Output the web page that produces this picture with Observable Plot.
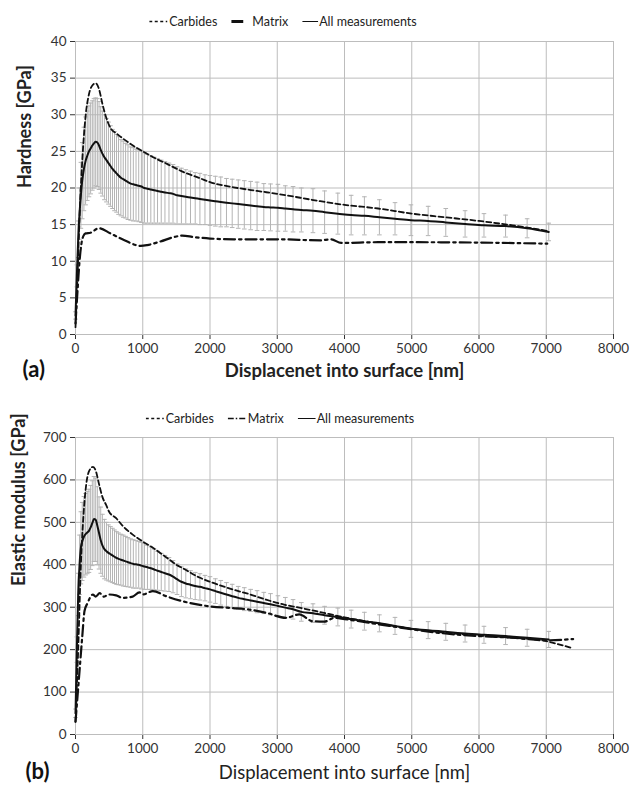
<!DOCTYPE html>
<html>
<head>
<meta charset="utf-8">
<script src="https://cdn.jsdelivr.net/npm/d3@7"></script>
<script src="https://cdn.jsdelivr.net/npm/@observablehq/plot@0.6"></script>
<style>
  body { margin: 0; background: #fff; font-family: Lato, "Open Sans", sans-serif; }
  #fig { position: relative; width: 633px; height: 789px; overflow: hidden; background: #fff; }
  #fig > svg { position: absolute; left: 0; }
  .legend { position: absolute; display: flex; align-items: center; font-size: 12.5px; color: #222;
            transform: translate(-50%, -50%); white-space: nowrap; z-index: 2; }
  .legend .item { display: flex; align-items: center; margin: 0 7px; }
  .legend svg { display: block; margin-right: 1px; }
</style>
</head>
<body>
<div id="fig"></div>
<script>
// Indentation depths (nm) at which the averaged curve and its scatter are reported
const depth = [0,20,40,60,80,100,125,150,175,200,225,250,275,300,325,350,375,400,430,460,490,520,550,580,610,640,675,710,745,780,820,860,900,940,980,1025,1070,1120,1170,1220,1275,1330,1390,1450,1510,1575,1640,1710,1780,1850,1925,2000,2080,2160,2245,2330,2420,2510,2605,2700,2800,2900,3010,3120,3235,3358,3531,3704,3901,4099,4296,4519,4751,4988,5244,5506,5793,6074,6395,6716,7037];

// (a) Hardness, all measurements: mean and standard deviation (GPa)
const hardAll = [2.6,8,13,16.5,19,21,22.6,23.7,24.4,25.0,25.4,25.8,26.1,26.3,26.2,25.8,25.2,24.7,24.2,23.8,23.4,23.0,22.6,22.3,22.0,21.7,21.4,21.2,21.0,20.8,20.6,20.5,20.4,20.3,20.2,20.0,19.9,19.8,19.7,19.6,19.5,19.4,19.3,19.2,19.0,18.9,18.8,18.7,18.6,18.5,18.4,18.3,18.2,18.1,18.0,17.9,17.8,17.7,17.6,17.5,17.4,17.35,17.3,17.2,17.1,17.0,16.9,16.7,16.5,16.3,16.2,16.0,15.8,15.6,15.5,15.3,15.1,14.9,14.8,14.5,14.0];
const hardSd = [0.5,1.5,2.5,3.5,4.5,5.2,5.7,6.0,6.1,6.2,6.2,6.1,6.1,6.0,6.0,6.0,5.9,5.8,5.8,5.7,5.6,5.5,5.4,5.4,5.3,5.3,5.2,5.2,5.1,5.1,5.0,5.0,4.9,4.9,4.9,4.8,4.7,4.6,4.5,4.4,4.3,4.2,4.1,4.0,3.9,3.8,3.7,3.6,3.5,3.5,3.4,3.4,3.4,3.4,3.3,3.3,3.3,3.3,3.3,3.3,3.2,3.2,3.2,3.1,3.1,3.0,3.0,2.9,2.8,2.7,2.6,2.4,2.2,2.1,2.0,1.9,1.8,1.6,1.5,1.3,1.2];

// (a) Hardness on carbides
const carbDepthA = [0,30,60,90,120,150,200,250,300,350,400,450,520,600,670,870,1000,1200,1360,1600,1860,2000,2350,2700,3000,3640,4000,4500,5000,5500,6000,6500,7040];
const carbHard = [1,8,16,22,26.5,29.8,32.8,34.0,34.3,33.5,31.5,29.8,28.2,27.5,27.0,25.7,25.0,24.0,23.3,22.2,21.3,20.8,20.1,19.6,19.2,18.2,17.7,17.2,16.5,16.0,15.5,14.9,14.1];

// (a) Hardness on matrix
const matDepthA = [0,30,60,90,120,150,223,348,520,720,970,1066,1264,1463,1587,1760,2000,2355,3000,3644,3800,3950,4500,5000,6000,7015];
const matHard = [1.5,6,10,12.5,13.5,13.8,13.9,14.5,13.8,12.9,12.1,12.2,12.7,13.3,13.5,13.3,13.1,13.0,13.0,12.85,13.0,12.5,12.6,12.6,12.55,12.4];

// (b) Elastic modulus, all measurements: mean and standard deviation (GPa)
const modAll = [50,200,330,400,440,455,466,472,476,480,488,498,508,506,492,475,458,446,437,432,428,425,422,419,416,414,412,410,408,406,404,402,401,400,398,396,394,392,389,386,383,380,377,372,366,360,356,353,350,348,345,342,338,334,330,326,322,319,316,313,310,307,303,299,295,289,286,281,277,272,267,262,256,249,246,242,238,235,232,228,224];
const modSd = [10,30,50,70,85,92,95,96,97,98,99,100,100,98,92,85,78,73,70,68,66,65,64,63,62,61,60,60,59,58,57,57,56,55,55,54,52,50,48,46,44,42,40,38,36,35,34,33,32,31,30,30,29,29,28,28,27,27,26,26,25,25,24,24,23,22,22,21,21,21,21,20,20,20,20,20,20,20,20,20,19];

// (b) Elastic modulus on carbides
const carbDepthB = [0,40,80,120,160,200,260,300,350,400,455,500,604,700,851,1000,1150,1347,1500,1594,1842,2000,2337,2600,2832,3100,3327,3624,4000,4500,5000,5500,6000,6500,7000,7200,7400];
const carbMod = [30,200,400,520,590,620,631,622,590,560,541,525,510,492,471,455,440,418,400,392,370,360,342,330,318,306,299,289,276,262,249,240,233,228,220,212,203];

// (b) Elastic modulus on matrix
const matDepthB = [0,60,100,134,180,257,300,360,420,500,604,700,851,950,1000,1150,1347,1594,2000,2337,2600,2832,3129,3327,3525,3700,3850,4000,4500,5000,5500,6000,6500,7000,7400];
const matMod = [30,150,230,291,310,330,325,333,325,330,328,322,325,335,330,338,326,314,302,298,294,287,275,283,267,266,275,272,260,248,238,232,228,222,225];

// Axis ticks
const xTicks = [0,1000,2000,3000,4000,5000,6000,7000,8000];
const hardTicks = [0,5,10,15,20,25,30,35,40];
const modTicks = [0,100,200,300,400,500,600,700];

// Horizontal cap for the error bars
const cap = {
  draw(ctx, size) {
    const r = Math.sqrt(size / Math.PI);
    ctx.moveTo(-r, 0);
    ctx.lineTo(r, 0);
  }
};

const fig = document.getElementById("fig");
const zip = (xs, ys) => xs.map((x, i) => ({x, y: ys[i]}));

function panel(o) {
  const rows = depth.map((d, i) => ({x: d, m: o.mean[i], s: o.sd[i]}));
  const carb = zip(o.carbX, o.carbY);
  const mat = zip(o.matX, o.matY);
  const grid = "#bdbdbd", bar = "#b4b4b4";
  const svg = Plot.plot({
    width: 633,
    height: o.height,
    marginLeft: 75,
    marginRight: 20,
    marginTop: o.marginTop,
    marginBottom: o.marginBottom,
    style: {fontFamily: "Lato, 'Open Sans', sans-serif", fontSize: "13.5px", color: "#333", background: "transparent"},
    x: {domain: [0, 8000], ticks: xTicks, tickSize: 5, tickPadding: 4, label: null, tickFormat: d3.format("d")},
    y: {domain: o.domain, ticks: o.ticks, tickSize: 5, tickPadding: 4, label: null, tickFormat: d3.format("d")},
    marks: [
      Plot.ruleY(o.ticks, {y: d => d, stroke: grid, strokeWidth: 1}),
      Plot.ruleX(xTicks, {x: d => d, stroke: grid, strokeWidth: 1}),
      Plot.ruleX(rows, {x: "x", y1: d => d.m - d.s, y2: d => d.m + d.s, stroke: bar, strokeWidth: 1}),
      Plot.dot(rows, {x: "x", y: d => d.m - d.s, symbol: cap, r: 2.3, fill: "none", stroke: bar, strokeWidth: 1}),
      Plot.dot(rows, {x: "x", y: d => d.m + d.s, symbol: cap, r: 2.3, fill: "none", stroke: bar, strokeWidth: 1}),
      Plot.line(mat, {x: "x", y: "y", curve: "monotone-x", stroke: "#111", strokeWidth: 2.2, strokeDasharray: "11,4,2.5,4"}),
      Plot.line(carb, {x: "x", y: "y", curve: "monotone-x", stroke: "#111", strokeWidth: 1.8, strokeDasharray: "5,3"}),
      Plot.line(rows, {x: "x", y: "m", curve: "monotone-x", stroke: "#111", strokeWidth: 2}),
      Plot.text([o.yTitle], {text: d => d, frameAnchor: "left", dx: o.yTitleDx, rotate: -90,
        fontSize: 18, fontWeight: "bold", fill: "#222"}),
      Plot.text([o.xTitle], {text: d => d, frameAnchor: "bottom", dy: o.titleDy,
        fontSize: o.xTitleSize, fontWeight: o.xTitleWeight, fill: "#222"}),
      Plot.text([o.tag], {text: d => d, frameAnchor: "bottom-left", dx: o.tagDx, dy: o.titleDy,
        fontSize: 22, fontWeight: "bold", fill: "#111"})
    ]
  });
  svg.style.top = o.top + "px";
  fig.appendChild(svg);
}

function legend(items, cx, cy) {
  const div = document.createElement("div");
  div.className = "legend";
  div.style.left = cx + "px";
  div.style.top = cy + "px";
  for (const it of items) {
    const item = document.createElement("div");
    item.className = "item";
    const w = it.w;
    item.innerHTML =
      `<svg width="${w + it.gap}" height="8"><line x1="0" x2="${w}" y1="4" y2="4" stroke="#111" ` +
      `stroke-width="${it.sw}" ${it.dash ? `stroke-dasharray="${it.dash}"` : ""}/></svg>` +
      `<span>${it.label}</span>`;
    div.appendChild(item);
  }
  fig.appendChild(div);
}

panel({
  mean: hardAll, sd: hardSd, carbX: carbDepthA, carbY: carbHard, matX: matDepthA, matY: matHard,
  domain: [0, 40], ticks: hardTicks, top: 0, height: 400, marginTop: 41, marginBottom: 66,
  yTitle: "Hardness [GPa]", yTitleDx: -50,
  xTitle: "Displacenet into surface [nm]", xTitleSize: 18.5, xTitleWeight: "bold", titleDy: 42,
  tag: "(a)", tagDx: -53
});

panel({
  mean: modAll, sd: modSd, carbX: carbDepthB, carbY: carbMod, matX: matDepthB, matY: matMod,
  domain: [0, 700], ticks: modTicks, top: 400, height: 389, marginTop: 37, marginBottom: 55,
  yTitle: "Elastic modulus [GPa]", yTitleDx: -56,
  xTitle: "Displacement into surface [nm]", xTitleSize: 18.5, xTitleWeight: "normal", titleDy: 44,
  tag: "(b)", tagDx: -50
});

legend([
  {label: "Carbides", w: 18, gap: 1, sw: 1.3, dash: "3,2.5"},
  {label: "Matrix", w: 12, gap: 8, sw: 3},
  {label: "All measurements", w: 16, gap: 0, sw: 1.2}
], 283, 21);

legend([
  {label: "Carbides", w: 18, gap: 1, sw: 1.3, dash: "3,2.5"},
  {label: "Matrix", w: 18, gap: 1, sw: 1.3, dash: "6,2,1.5,2"},
  {label: "All measurements", w: 18, gap: 0, sw: 1.2}
], 280, 418);
</script>
</body>
</html>
